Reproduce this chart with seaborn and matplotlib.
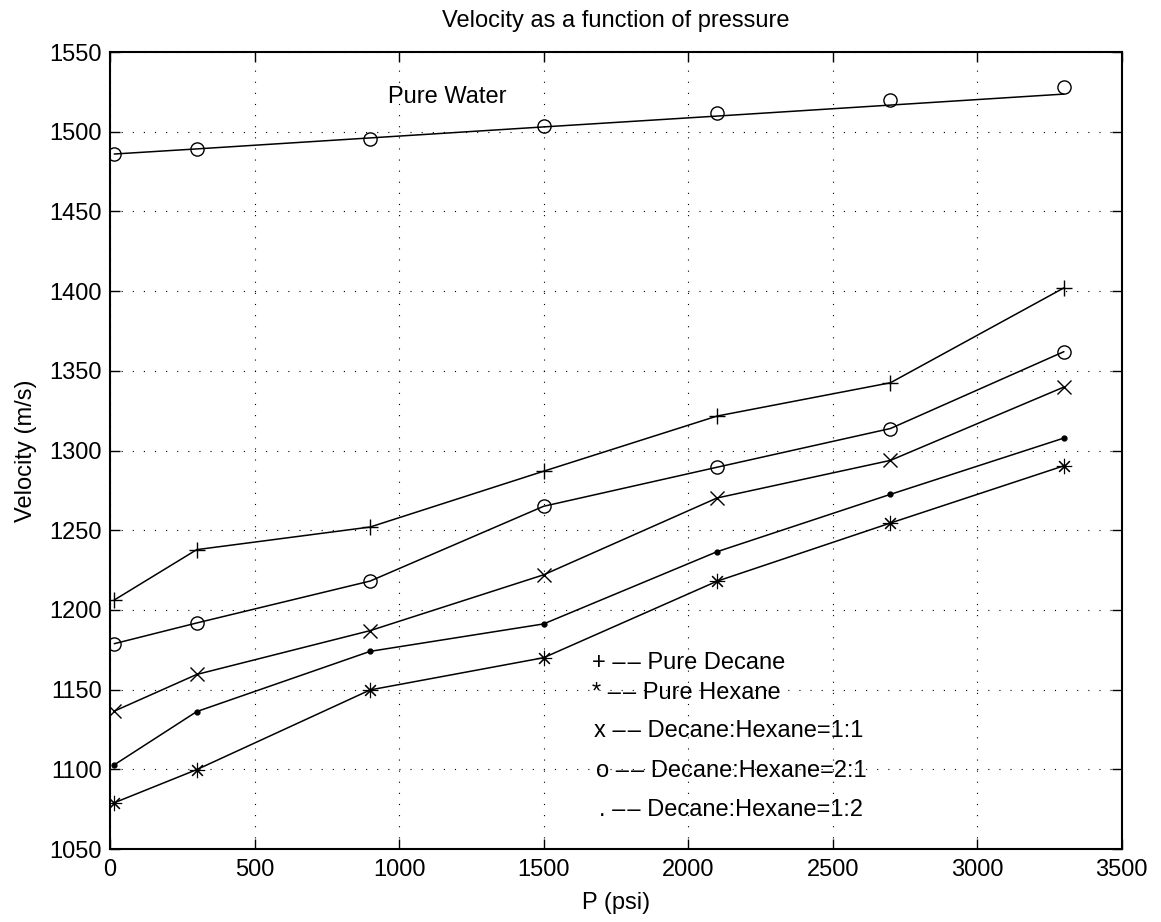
import numpy as np
import pandas as pd
import seaborn as sns
import matplotlib
matplotlib.use("Agg")
import matplotlib.pyplot as plt

# ---- data ----
pressure = [14.7, 300, 900, 1500, 2100, 2700, 3300]
water_pts = [1486.0, 1489.4, 1495.7, 1503.5, 1511.5, 1519.9, 1528.2]
water_fit = [1486.0, 1489.2, 1496.1, 1503.0, 1509.8, 1516.7, 1523.6]
decane = [1206.2, 1237.8, 1252.0, 1287.0, 1321.6, 1342.5, 1402.0]
dh_21 = [1178.8, 1191.8, 1218.1, 1265.0, 1289.5, 1313.8, 1362.0]
dh_11 = [1136.5, 1159.5, 1187.0, 1222.0, 1270.2, 1293.8, 1339.8]
dh_12 = [1102.8, 1136.2, 1174.0, 1191.2, 1236.5, 1272.5, 1307.8]
hexane = [1079.0, 1099.8, 1149.8, 1170.0, 1218.0, 1254.5, 1290.4]

dash = "\u2013\u200a\u2013"
legend_lines = ["+ " + dash + " Pure Decane", "* " + dash + " Pure Hexane",
                "x " + dash + " Decane:Hexane=1:1", "o " + dash + " Decane:Hexane=2:1",
                ". " + dash + " Decane:Hexane=1:2"]
legend_x = [1668, 1668, 1675, 1680, 1690]
legend_y = [1167, 1148, 1124, 1099, 1074.5]

title = "Velocity as a function of pressure"
xlabel = "P (psi)"
ylabel = "Velocity (m/s)"
xticks = [0, 500, 1000, 1500, 2000, 2500, 3000, 3500]
yticks = [1050, 1100, 1150, 1200, 1250, 1300, 1350, 1400, 1450, 1500, 1550]

sns.set_style("white")
plt.rcParams['font.family'] = ['Liberation Sans', 'DejaVu Sans']
plt.rcParams['text.color'] = 'k'
plt.rcParams['axes.labelcolor'] = 'k'
plt.rcParams['xtick.color'] = 'k'
plt.rcParams['ytick.color'] = 'k'

W, H = 1161, 922
fig = plt.figure(figsize=(W / 100, H / 100), dpi=100)
ax = fig.add_axes([110 / W, (H - 849) / H, (1121.7 - 110) / W, (849 - 52) / H])

fs = 17
lw = 1.1
ms = 9.5

series = [
    (decane, '+', 'k', 11, 1.0),
    (dh_21, 'o', 'none', ms, 1.0),
    (dh_11, 'x', 'k', ms, 1.0),
    (dh_12, 'o', 'k', 3.5, 1.0),
    (hexane, (8, 2, 0), 'k', 11, 0.8),
]
for vals, mk, mfc, size, mew in series:
    df = pd.DataFrame({"P": pressure, "V": vals})
    sns.lineplot(data=df, x="P", y="V", ax=ax, color='k', linewidth=lw,
                 marker=mk, markersize=size, markerfacecolor=mfc,
                 markeredgecolor='k', markeredgewidth=mew, sort=False)

dfw = pd.DataFrame({"P": pressure, "V": water_fit})
sns.lineplot(data=dfw, x="P", y="V", ax=ax, color='k', linewidth=lw, sort=False)
dfp = pd.DataFrame({"P": pressure, "V": water_pts})
ax.plot(dfp["P"], dfp["V"], linestyle='none', marker='o', markersize=ms,
        markerfacecolor='none', markeredgecolor='k', markeredgewidth=1.0)

ax.text(962, 1521.8, "Pure Water", fontsize=fs, va='center', ha='left', color='k')
for t, x, y in zip(legend_lines, legend_x, legend_y):
    ax.text(x, y, t, fontsize=fs, va='center', ha='left', color='k')

ax.set_xlim(0, 3500)
ax.set_ylim(1050, 1550)
ax.set_xticks(xticks)
ax.set_yticks(yticks)
ax.set_xticklabels([str(v) for v in xticks])
ax.set_yticklabels([str(v) for v in yticks])
ax.tick_params(direction='in', length=7, width=1.0, labelsize=fs,
               top=True, right=True, bottom=True, left=True,
               colors='k', labelcolor='k')
ax.tick_params(axis='x', pad=7)
ax.tick_params(axis='y', pad=6)
for s in ax.spines.values():
    s.set_visible(True)
    s.set_color('k')
    s.set_linewidth(1.5)
ax.grid(True, color='k', linestyle=(0, (1, 9)), linewidth=0.8)
ax.set_axisbelow(True)

ax.set_title(title, fontsize=fs, pad=18, color='k')
ax.set_xlabel(xlabel, fontsize=fs, labelpad=8, color='k')
ax.set_ylabel(ylabel, fontsize=fs, labelpad=9, color='k')

fig.savefig("out.png", dpi=100, facecolor='white')
